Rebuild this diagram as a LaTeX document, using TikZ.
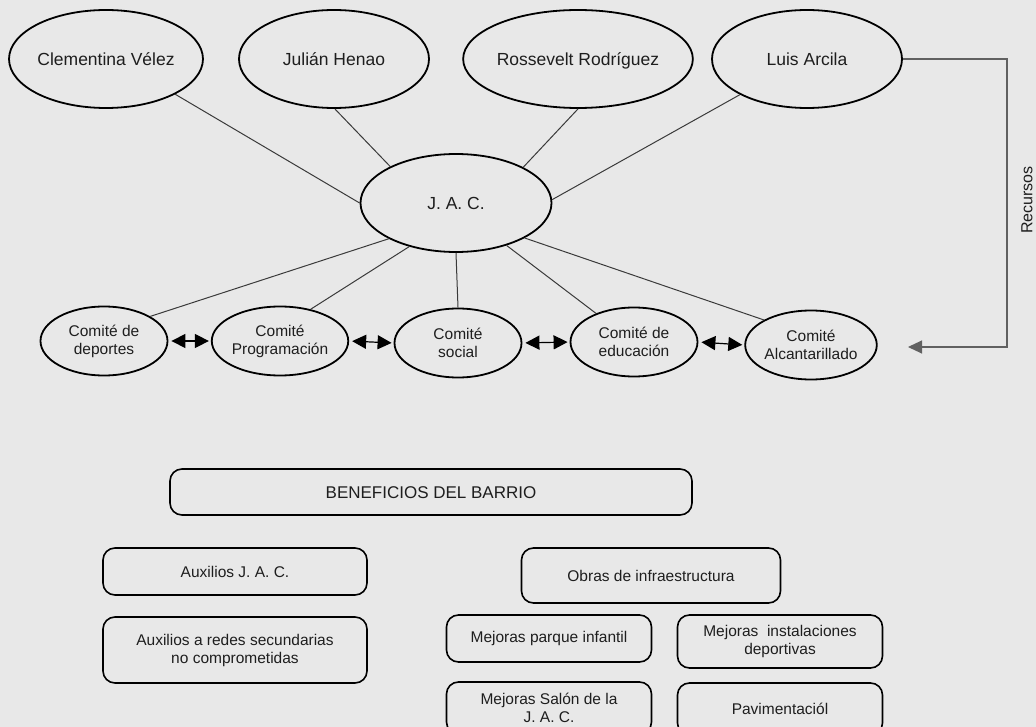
\documentclass[tikz,border=0pt]{standalone}
\usepackage{fontspec}
\setmainfont{Liberation Sans}
\usetikzlibrary{shapes.geometric,arrows.meta}
\definecolor{bgc}{HTML}{E8E8E8}
\definecolor{lnc}{HTML}{3A3A3A}
\definecolor{txc}{HTML}{1E1E1E}
\begin{document}
\begin{tikzpicture}[x=1pt,y=-1pt,
  person/.style={ellipse,draw=black,line width=1.8pt,minimum width=190pt,minimum height=98pt,inner sep=0pt,text=txc,text height=12.6pt,text depth=0pt,font=\fontsize{17.5}{20}\selectfont},
  comite/.style={ellipse,draw=black,line width=1.8pt,minimum width=127pt,minimum height=69pt,inner sep=0pt,align=center,text=txc,font=\fontsize{15.5}{18}\selectfont},
  rbox/.style={draw=black,line width=1.6pt,rounded corners=12pt,inner sep=0pt,align=center,text=txc,font=\fontsize{15.5}{18}\selectfont},
  conn/.style={draw=lnc,line width=1pt},
  dbl/.style={draw=black,line width=1.2pt,{Triangle[length=14pt,width=14pt]}-{Triangle[length=14pt,width=14pt]},shorten <=3pt,shorten >=2pt},
]
\useasboundingbox (0,0) rectangle (1036,727);
\clip (0,0) rectangle (1036,727);
\fill[bgc] (0,0) rectangle (1036,727);

% top persons
\node[person] (clem) at (106,59) {Clementina Vélez};
\node[person] (jul) at (334,59) {Julián Henao};
\node[person] (ros) at (578,59) {Rossevelt Rodríguez};
\node[person] (luis) at (807,59) {Luis Arcila};

% JAC
\node[person,minimum width=191pt] (jac) at (456,203) {J. A. C.};

% comites
\node[comite] (dep) at (104,341) {Comité de\\deportes};
\node[comite] (prog) at (280,341) {Comité\\Programación};
\node[comite] (soc) at (458,343) {Comité\\social};
\node[comite] (edu) at (634,342) {Comité de\\educación};
\node[comite] (alc) at (811,345) {Comité\\Alcantarillado};

% lines persons - JAC
\draw[conn] (clem.-27) -- (jac.180);
\draw[conn] (jul.-89) -- (jac.151);
\draw[conn] (ros.-90) -- (jac.28);
\draw[conn] (luis.-152) -- (jac.2);

% lines JAC - comites
\draw[conn] (jac.-152) -- (dep.28);
\draw[conn] (jac.-137) -- (prog.46);
\draw[conn] (jac.-90) -- (soc.90);
\draw[conn] (jac.-40) -- (edu.143);
\draw[conn] (jac.-27) -- (alc.152);

% double arrows
\draw[dbl] (dep.east) -- (prog.west);
\draw[dbl] (prog.east) -- (soc.west);
\draw[dbl] (soc.east) -- (edu.west);
\draw[dbl] (edu.east) -- (alc.west);

% recursos
\coordinate (rc) at (1007,347);
\coordinate (rt) at (908,347);
\draw[draw=lnc!80,line width=1.1pt,-{Triangle[length=14pt,width=13pt]}] (luis.east) -| (rc) -- (rt);
\node[rotate=90,text=txc,font=\fontsize{16}{18}\selectfont] (rec) at (1027,200) {Recursos};

% beneficios
\node[rbox,minimum width=522pt,minimum height=46pt,font=\fontsize{17}{20}\selectfont,text height=12.2pt,text depth=0pt] (ben) at (431,492) {BENEFICIOS DEL BARRIO};
\node[rbox,minimum width=264pt,minimum height=47pt] (aux) at (235,571.5) {Auxilios J. A. C.};
\node[rbox,minimum width=264pt,minimum height=66pt] (red) at (235,650) {Auxilios a redes secundarias\\no comprometidas};
\node[rbox,minimum width=259pt,minimum height=55pt] (obr) at (651,575.5) {Obras de infraestructura};
\node[rbox,minimum width=205pt,minimum height=47pt] (par) at (549,638.5) {Mejoras parque infantil};
\node[rbox,minimum width=205pt,minimum height=53pt] (ins) at (780,641.5) {Mejoras\ \ instalaciones\\deportivas};
\node[rbox,minimum width=205pt,minimum height=52pt] (sal) at (549,708) {Mejoras Salón de la\\J. A. C.};
\node[rbox,minimum width=205pt,minimum height=52pt] (pav) at (780,709) {Pavimentaciól};
\end{tikzpicture}
\end{document}
